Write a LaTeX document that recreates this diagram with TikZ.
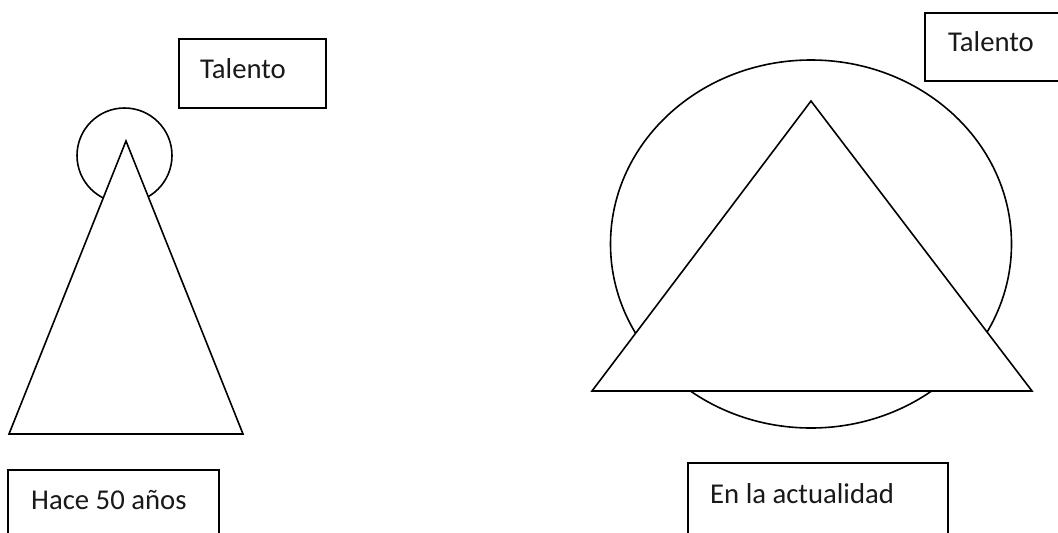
\documentclass[tikz,border=0pt]{standalone}
\usepackage{fontspec}
\setmainfont{Carlito}
\begin{document}
\begin{tikzpicture}[x=1pt,y=-1pt,
  shapeline/.style={line width=1.6pt, line join=miter},
  boxline/.style={draw, line width=1.8pt},
  lbl/.style={anchor=base west, inner sep=0pt, font=\fontsize{28.7}{34}\selectfont, text=black!90}]
\clip (0,0) rectangle (1058,533);
\fill[white] (0,0) rectangle (1058,533);
% left figure
\draw[shapeline] (124.5,155.5) circle[radius=47.5pt];
\draw[shapeline, fill=white] (126,141) -- (243,434) -- (9,434) -- cycle;
% right figure
\draw[shapeline] (811,244) ellipse[x radius=200.5pt, y radius=184pt];
\draw[shapeline, fill=white] (811,101) -- (1032,391) -- (592,391) -- cycle;
% boxes
\draw[boxline] (179,39) rectangle (326,108);
\node[lbl] (t1) at (200,78) {Talento};
\draw[boxline] (925,13) rectangle (1070,81);
\node[lbl] (t2) at (948,51) {Talento};
\draw[boxline] (8,470) rectangle (219,545);
\node[lbl] (h1) at (31,509) {Hace 50 años};
\draw[boxline] (688,463) rectangle (948,545);
\node[lbl] (e1) at (710,503) {En la actualidad};
\end{tikzpicture}
\end{document}
